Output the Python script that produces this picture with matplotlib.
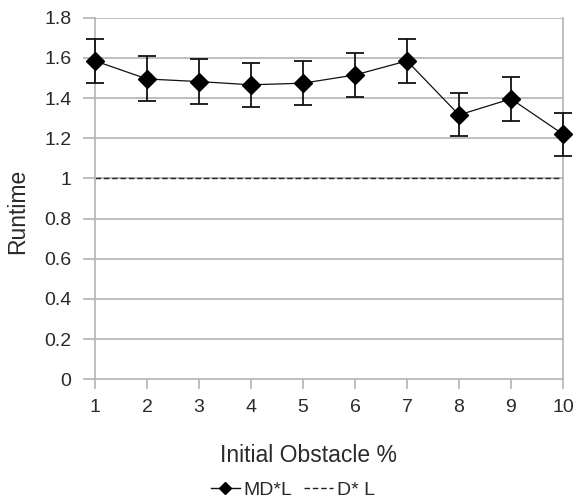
import matplotlib
matplotlib.use("Agg")
import matplotlib.pyplot as plt
from matplotlib.ticker import FixedLocator, FixedFormatter
from matplotlib.lines import Line2D

# Data
x_values = [1, 2, 3, 4, 5, 6, 7, 8, 9, 10]
mdl_runtime = [1.585, 1.495, 1.482, 1.466, 1.474, 1.515, 1.585, 1.316, 1.396, 1.22]
mdl_error = [0.11, 0.112, 0.11, 0.11, 0.11, 0.11, 0.11, 0.107, 0.108, 0.108]
dl_runtime = [1.0] * 10
y_ticks = [0, 0.2, 0.4, 0.6, 0.8, 1.0, 1.2, 1.4, 1.6, 1.8]
y_tick_labels = ["0", "0.2", "0.4", "0.6", "0.8", "1", "1.2", "1.4", "1.6", "1.8"]
x_tick_labels = ["1", "2", "3", "4", "5", "6", "7", "8", "9", "10"]

plt.rcParams['font.family'] = ['Liberation Sans', 'DejaVu Sans']
W, H = 574, 499
fig = plt.figure(figsize=(W / 100, H / 100), dpi=100)
ax = fig.add_axes([95 / W, 1 - 379.3 / H, (563 - 95) / W, (379.3 - 17.7) / H])

grid_c = '#b3b3b3'
text_c = '#2a2a2a'

for y in y_ticks[1:]:
    ax.axhline(y, color=grid_c, lw=1.2, zorder=0)

dl_line, = ax.plot(x_values, dl_runtime, color='#222222', lw=1.0,
                   linestyle=(0, (4, 2)), label='D* L', zorder=2)
eb = ax.errorbar(x_values, mdl_runtime, yerr=mdl_error, color='#111111',
                 lw=0.9, marker='D', markersize=9, markerfacecolor='black',
                 markeredgecolor='black', ecolor='#111111', elinewidth=1.3,
                 capsize=6.5, capthick=1.3, label='MD*L', zorder=3)
for l in eb.get_children():
    l.set_clip_on(False)

ax.set_xlim(1, 10)
ax.set_ylim(0, 1.8)
ax.xaxis.set_major_locator(FixedLocator(x_values))
ax.xaxis.set_major_formatter(FixedFormatter(x_tick_labels))
ax.yaxis.set_major_locator(FixedLocator(y_ticks))
ax.yaxis.set_major_formatter(FixedFormatter(y_tick_labels))

for side in ['left', 'right', 'bottom']:
    ax.spines[side].set_color(grid_c)
    ax.spines[side].set_linewidth(1.2)
ax.spines['top'].set_visible(False)

ax.tick_params(axis='both', colors=grid_c, labelcolor=text_c, labelsize=14,
               width=1.2)
ax.tick_params(axis='y', length=9, pad=8)
ax.tick_params(axis='x', length=7.5, pad=7)

fig.text(309 / W, 1 - 456 / H, 'Initial Obstacle %', ha='center', va='center',
         fontsize=16.5, color=text_c)
fig.text(18 / W, 1 - 211.5 / H, 'Runtime', ha='center', va='center',
         rotation=90, fontsize=16.5, color=text_c)

mdl_handle = Line2D([], [], color='#111111', lw=1.0, marker='D', markersize=6.5,
                    markerfacecolor='black', markeredgecolor='black')
leg = fig.legend(handles=[mdl_handle, dl_line], labels=['MD*L', 'D* L'], ncol=2,
                 loc='center', bbox_to_anchor=(293 / W, 1 - 490 / H),
                 frameon=False, fontsize=14, handlelength=1.5,
                 handletextpad=0.2, columnspacing=0.6)
for t in leg.get_texts():
    t.set_color(text_c)

fig.savefig('out.png', dpi=100)
